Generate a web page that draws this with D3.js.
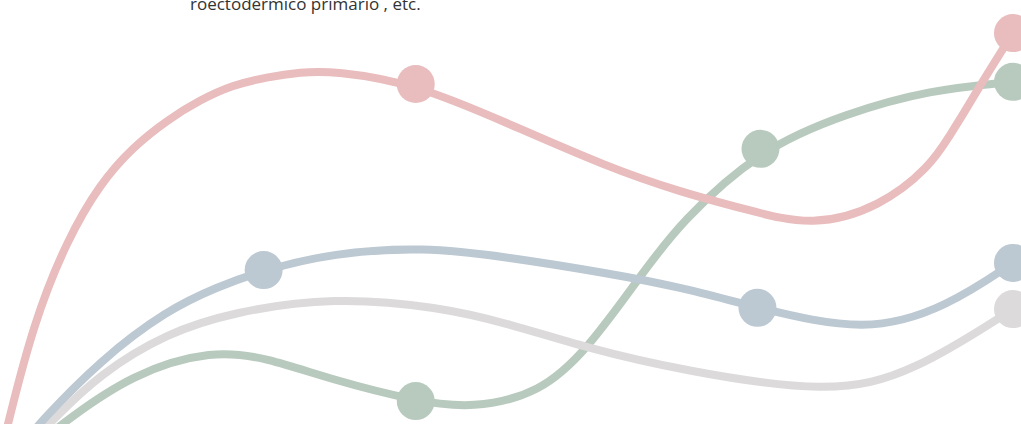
<!DOCTYPE html>
<html lang="es">
<head>
  <meta charset="utf-8">
  <title>Curvas</title>
  <script src="https://d3js.org/d3.v7.min.js"></script>
  <style>
    html, body { margin: 0; padding: 0; background: #fff; overflow: hidden; }
    .nota { font: 17px "Open Sans", sans-serif; fill: #333; }
  </style>
</head>
<body>
  <div id="chart"></div>

  <script>
    "use strict"

    // posiciones (0-100) y valores (0-100)
    var rosaX  = [0.6, 0.8, 3.3, 6.6, 9.9, 13.1, 16.5, 19.7, 23.0, 26.3, 29.6, 33.0, 41.0, 50.0, 59.9, 67.1, 73.7, 80.2, 86.8, 91.7, 93.7, 95.0, 96.6, 98.6, 99.9];
    var rosaY  = [-1.9, 0.2, 23.8, 43.4, 56.8, 65.3, 71.7, 76.4, 80.0, 81.8, 83.0, 83.3, 80.2, 71.0, 60.6, 54.7, 50.5, 46.5, 51.2, 60.6, 68.2, 73.1, 79.6, 87.3, 92.2];
    var rosaMarcas = [41.0, 99.9];

    var verdeX = [5.1, 6.2, 13.1, 21.0, 26.3, 32.8, 41.0, 46.6, 53.3, 57.9, 63.1, 67.1, 75.0, 83.5, 91.7, 99.9];
    var verdeY = [-2.1, 0.2, 12.0, 17.5, 15.6, 10.4, 5.4, 3.6, 7.3, 17.5, 34.7, 47.6, 64.9, 73.3, 78.8, 80.7];
    var verdeMarcas = [41.0, 75.0, 99.9];

    var azulX  = [3.2, 3.9, 9.9, 16.5, 21.4, 26.0, 32.8, 41.7, 50.0, 59.9, 67.1, 74.7, 85.5, 93.4, 99.9];
    var azulY  = [-2.1, 0.2, 15.1, 26.9, 32.3, 36.3, 40.3, 41.8, 39.4, 35.6, 32.3, 27.4, 21.4, 27.6, 38.0];
    var azulMarcas = [26.0, 74.7, 99.9];

    var grisX  = [4.1, 4.9, 9.9, 16.5, 23.0, 32.8, 43.4, 50.0, 57.9, 67.1, 81.9, 90.0, 99.9];
    var grisY  = [-2.1, 0.2, 12.0, 21.5, 26.4, 30.0, 27.6, 23.8, 17.9, 12.7, 7.0, 12.0, 27.1];
    var grisMarcas = [99.9];

    var nota = "roectodérmico primario , etc.";

    var largura = 1021, altura = 424;

    var svg = d3.select('#chart')
      .append('svg')
        .attr('width', largura)
        .attr('height', altura);

    var x = d3.scaleLinear().domain([0, 100]).range([0, 1014]);
    var y = d3.scaleLinear().domain([0, 100]).range([424, 0]);

    var linha = d3.line()
      .x(d => x(d[0]))
      .y(d => y(d[1]))
      .curve(d3.curveBasis);

    // la verde queda por debajo de las demas
    var series = [
      { xs: verdeX, ys: verdeY, marcas: verdeMarcas, cor: '#b8cabe' },
      { xs: grisX,  ys: grisY,  marcas: grisMarcas,  cor: '#dcdadb' },
      { xs: azulX,  ys: azulY,  marcas: azulMarcas,  cor: '#bcc8d2' },
      { xs: rosaX,  ys: rosaY,  marcas: rosaMarcas,  cor: '#e9bcbd' }
    ];

    series.forEach(function(s) {
      var pontos = s.xs.map((v, i) => [v, s.ys[i]]);
      var g = svg.append('g');

      g.append('path')
        .datum(pontos)
        .attr('d', linha)
        .attr('fill', 'none')
        .attr('stroke', s.cor)
        .attr('stroke-width', 8)
        .attr('stroke-linecap', 'round');

      g.selectAll('circle')
        .data(pontos.filter(p => s.marcas.indexOf(p[0]) >= 0))
        .enter()
        .append('circle')
          .attr('cx', d => x(d[0]))
          .attr('cy', d => y(d[1]))
          .attr('r', 19)
          .attr('fill', s.cor);
    });

    svg.append('text')
      .attr('class', 'nota')
      .attr('x', 190)
      .attr('y', 10)
      .text(nota);
  </script>
</body>
</html>
